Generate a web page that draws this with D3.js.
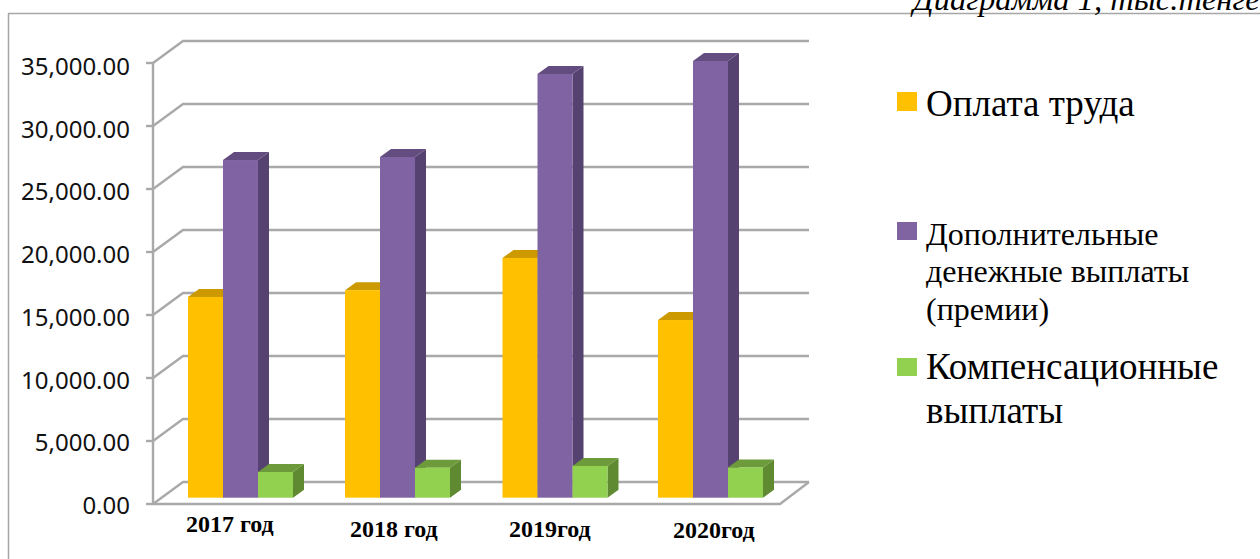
<!DOCTYPE html>
<html><head><meta charset="utf-8">
<script src="https://cdnjs.cloudflare.com/ajax/libs/d3/7.8.5/d3.min.js"></script>
<style>html,body{margin:0;padding:0;background:#fff;overflow:hidden}svg{display:block}</style></head>
<body><svg id="c" width="1260" height="559"></svg>
<script>
const years = ["2017 год","2018 год","2019год","2020год"];
const seriesNames = ["Оплата труда","Дополнительные денежные выплаты (премии)","Компенсационные выплаты"];
const oplata = [15930,16470,19030,14100];
const dopolnitelnye = [26800,27040,33630,34660];
const kompensacionnye = [2040,2380,2520,2400];
const tickValues = [0,5000,10000,15000,20000,25000,30000,35000];
const seriesValues = [oplata,dopolnitelnye,kompensacionnye];

const faces = [
  {f:"#ffc000",t:"#cc9a00",s:"#b88b00"},
  {f:"#8064a2",t:"#644e80",s:"#57436f"},
  {f:"#92d050",t:"#6d9b3a",s:"#5f8a33"}
];
const svg = d3.select("#c");
const defs = svg.append("defs");
defs.append("filter").attr("id","soft").append("feGaussianBlur").attr("stdDeviation",0.5);

// frame
const frame = svg.append("g").attr("stroke","#a6a6a6").attr("stroke-width",1.5);
frame.append("line").attr("x1",8.5).attr("x2",8.5).attr("y1",13.5).attr("y2",559);
frame.append("line").attr("x1",8).attr("x2",1260).attr("y1",13.5).attr("y2",13.5);

// scales
const y = d3.scaleLinear().domain([0,35000]).range([504,63]);
const yLabel = d3.scaleLinear().domain([0,35000]).range([514,75]);
const barBase = 497.7, barShift = y(0)-barBase;
const depthX = 30, depthY = 22;
const offs = [35,192,349.5,505];     // group left offsets
const barW = 35, bDX = 11, bDY = 8;

// walls
const chart = svg.append("g").attr("filter","url(#soft)");
const grid = chart.append("g").attr("fill","none").attr("stroke","#a9a9a9").attr("stroke-width",2.4);
tickValues.forEach(v=>{
  const yy=y(v);
  grid.append("path").attr("d",d3.line()([[153,yy],[153+depthX,yy-depthY],[809,yy-depthY]]));
  grid.append("line").attr("x1",146).attr("x2",153).attr("y1",yy).attr("y2",yy);
});
grid.append("line").attr("x1",153).attr("x2",153).attr("y1",y(35000)).attr("y2",y(0));
grid.append("path").attr("d",d3.line()([[153,y(0)],[780,y(0)],[809,y(0)-depthY]]));

// bars
const bars = chart.append("g");
years.forEach((yr,i)=>{
  const left = 153+offs[i];
  seriesValues.forEach((vals,s)=>{
    const xl = left+s*barW, top = y(vals[i])-barShift, c = faces[s], xr = xl+barW;
    const g = bars.append("g").attr("class","bar");
    g.append("path").attr("fill",c.s).attr("d",d3.line()([[xr,top],[xr+bDX,top-bDY],[xr+bDX,barBase-bDY],[xr,barBase]]));
    g.append("path").attr("fill",c.t).attr("d",d3.line()([[xl,top],[xl+bDX,top-bDY],[xr+bDX,top-bDY],[xr,top]]));
    g.append("rect").attr("x",xl).attr("y",top).attr("width",barW).attr("height",barBase-top).attr("fill",c.f);
  });
});

// y labels
const fmt = d3.format(",.2f");
svg.append("g").selectAll("text").data(tickValues).join("text")
  .attr("x",130).attr("y",d=>yLabel(d)).attr("text-anchor","end")
  .attr("font-family","'Noto Sans'").attr("font-size",24).attr("fill","#111")
  .text(d=>fmt(d));

// category labels
const catPos = [[186,532],[350,537],[509,537],[673,538]];
svg.append("g").selectAll("text").data(years).join("text")
  .attr("x",(d,i)=>catPos[i][0]).attr("y",(d,i)=>catPos[i][1])
  .attr("font-family","'Liberation Serif'").attr("font-weight","bold").attr("font-size",24).attr("fill","#000")
  .text(d=>d);

// title
svg.append("text").attr("x",913).attr("y",10).attr("font-family","'Liberation Serif'")
  .attr("font-style","italic").attr("font-size",32.6).attr("fill","#000").text("Диаграмма 1, тыс.тенге");

// legend
const legend = [
 {sw:92,h:19,size:37,lines:[[seriesNames[0],116]]},
 {sw:222,h:18,size:32,lines:[["Дополнительные",245],["денежные выплаты",282],["(премии)",320]]},
 {sw:358,h:18,size:37,lines:[["Компенсационные",379],["выплаты",423]]}
];
legend.forEach((l,i)=>{
  svg.append("rect").attr("x",897).attr("y",l.sw).attr("width",20).attr("height",l.h).attr("fill",faces[i].f);
  l.lines.forEach(([t,yy])=>svg.append("text").attr("x",926).attr("y",yy)
    .attr("font-family","'Liberation Serif'").attr("font-size",l.size).attr("fill","#000").text(t));
});
</script></body></html>
